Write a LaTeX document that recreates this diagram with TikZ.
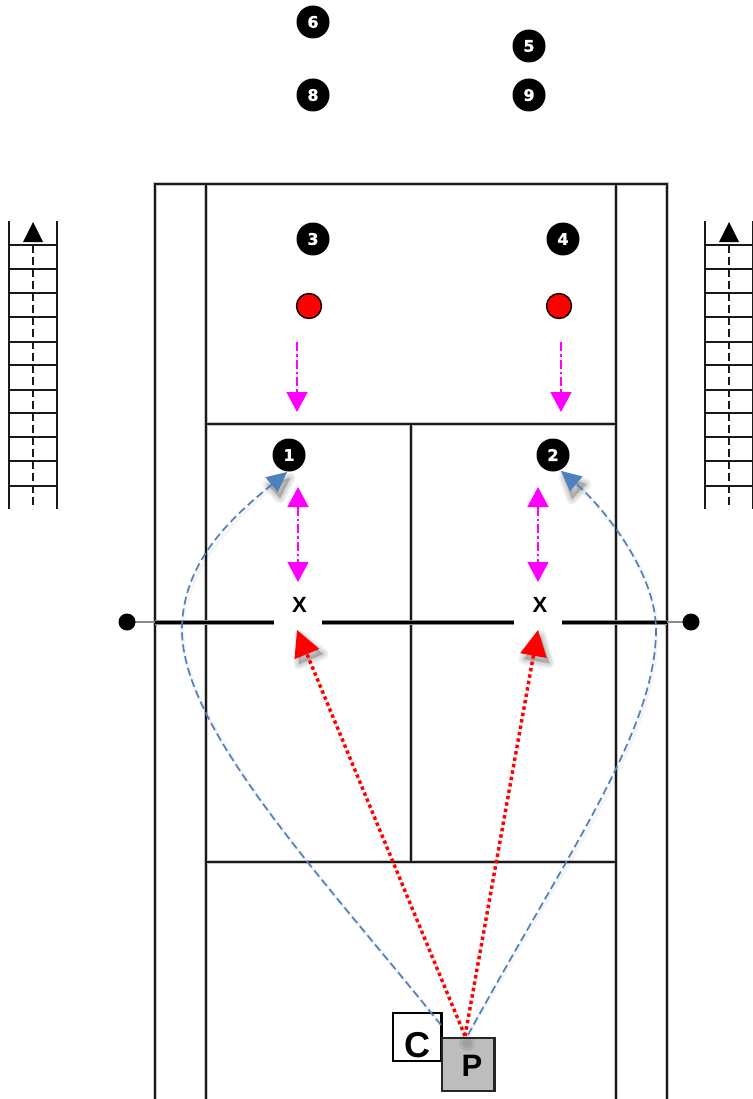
\documentclass[tikz,border=0pt]{standalone}
\usepackage{fontspec}
\setmainfont{Liberation Sans}
\newfontfamily\numfont[FakeBold=1.3]{DejaVu Sans Bold}
\usetikzlibrary{arrows.meta}
\definecolor{blueline}{HTML}{4F81BD}
\definecolor{mag}{HTML}{FF00FF}
\tikzset{
 x=1pt,y=-1pt,
 courthalo/.style={draw=black!22,line width=4.8pt},
 court/.style={draw=black!90,line width=2.9pt},
 rail/.style={draw=black!90,line width=2pt},
 player/.style={circle,fill=black,minimum size=33pt,inner sep=0pt,text=white,font=\numfont\fontsize{16}{16}\selectfont},
 ball/.style={circle,draw=black,fill=red,line width=1.4pt,minimum size=25pt,inner sep=0pt},
 post/.style={circle,fill=black,minimum size=17pt,inner sep=0pt},
 magarrow/.style={draw=mag,line width=1.6pt,dash pattern=on 9pt off 3pt on 2.5pt off 3pt,-{Triangle[length=20pt,width=21pt,fill=mag]}},
 magdouble/.style={draw=mag,line width=1.6pt,dash pattern=on 9pt off 3pt on 2.5pt off 3pt,{Triangle[length=20pt,width=21pt,fill=mag]}-{Triangle[length=20pt,width=21pt,fill=mag]}},
 redarrow/.style={draw=red,line width=3.4pt,dash pattern=on 3.4pt off 3.1pt,-{Triangle[length=26pt,width=26pt,fill=red]}},
 bluearrow/.style={draw=blueline,line width=1.7pt,dash pattern=on 8pt off 4pt,-{Triangle[length=20pt,width=19pt,fill=blueline]}},
 softline/.style={draw=black,line width=4pt,opacity=0.04},
 coach/.style={draw=black,line width=2.2pt,fill=white,minimum size=48.5pt,inner sep=0pt},
 pro/.style={draw=black!85,line width=2.2pt,fill=black!26,minimum size=52.5pt,inner sep=0pt},
 bigletter/.style={font=\bfseries\fontsize{#1}{#1}\selectfont,inner sep=0pt},
 xmask/.style={fill=white,minimum width=48pt,minimum height=40pt,inner sep=0pt},
 laddertip/.style={fill=black,draw=none},
}
\begin{document}
\begin{tikzpicture}
\useasboundingbox (0,0) rectangle (752,1099);
\fill[white] (0,0) rectangle (752,1099);
% court
\foreach \s in {courthalo,court}{
\draw[\s] (155,1099) -- (155,184) -- (667,184) -- (667,1099);
\draw[\s] (206,1099) -- (206,184);
\draw[\s] (616,1099) -- (616,184);
\draw[\s] (206,424) -- (616,424);
\draw[\s] (206,862) -- (616,862);
\draw[\s] (411,424) -- (411,862);
}
% net
\draw[draw=black!45,line width=2.6pt] (127,622) -- (155,622) (667,622) -- (691,622);
\draw[draw=black!45,line width=5pt] (155,622) -- (667,622);
\draw[draw=black,line width=3pt] (155,622) -- (667,622);
\node[post] (pl) at (127,622) {};
\node[post] (pr) at (691,622) {};
% ladders
\foreach \lx in {9,705}{
 \draw[rail] (\lx,221) -- (\lx,509);
 \draw[rail] (\lx+48,221) -- (\lx+48,509);
 \foreach \ly in {245,269,293,317,342,365,390,413,437,461,486}
   \draw[rail] (\lx,\ly) -- (\lx+48,\ly);
 \draw[rail,dash pattern=on 8pt off 4pt] (\lx+24,245) -- (\lx+24,509);
 \fill[laddertip] (\lx+14,242) -- (\lx+24,222) -- (\lx+34,242) -- cycle;
}
% players
\node[player] (p6) at (313,22) {6};
\node[player] (p5) at (529,46) {5};
\node[player] (p8) at (313,95) {8};
\node[player] (p9) at (529,95) {9};
\node[player] (p3) at (313,239) {3};
\node[player] (p4) at (563,239) {4};
\node[player] (p1) at (289,455) {1};
\node[player] (p2) at (553,455) {2};
\node[ball] (b1) at (309,306) {};
\node[ball] (b2) at (559,306) {};
% targets
\node[xmask] (x1) at (298,611) {};
\node[xmask] (x2) at (538,611) {};
\node[bigletter=22] (x1t) at (299.5,604.5) {X};
\node[bigletter=22] (x2t) at (540,604.5) {X};
% magenta connector ends
\coordinate (m1a) at (297,342); \coordinate (m1b) at (297,412);
\coordinate (m2a) at (561,342); \coordinate (m2b) at (561,412);
\coordinate (m3a) at (298,487); \coordinate (m3b) at (298,582);
\coordinate (m4a) at (538,487); \coordinate (m4b) at (538,582);
\draw[magarrow] (m1a) -- (m1b);
\draw[magarrow] (m2a) -- (m2b);
\draw[magdouble] (m3a) -- (m3b);
\draw[magdouble] (m4a) -- (m4b);
% coach
\node[coach] (c) at (417.3,1037) {};
\node[bigletter=36] (ct) at (417,1045.5) {C};
% connector ends
\coordinate (s1) at (441,1025);
\coordinate (s2) at (468,1035);
\coordinate (s3) at (465,1036);
\coordinate (t1) at (287,472);
\coordinate (t2) at (561,471);
\coordinate (w1) at (182,630);
\coordinate (w2) at (656,630);
\coordinate (r1) at (297,630);
\coordinate (r2) at (538,630);
% soft shadows of the lines and arrowheads
\begin{scope}[shift={(3,3)}]
\draw[softline] (s1) .. controls (325,880) and (182,730) .. (w1) .. controls (182,560) and (235,515) .. (t1);
\draw[softline] (s2) .. controls (569,850) and (656,730) .. (w2) .. controls (656,570) and (599,503) .. (t2);
\draw[softline] (s3) -- (r1);
\draw[softline] (s3) -- (r2);
\end{scope}
\foreach \w in {11,8,5,2}{
 \begin{scope}[shift={(3,6)},line join=round,opacity=0.05]
 \filldraw[black,line width=\w pt] (297,630) -- (320,648) -- (296,658) -- cycle;
 \filldraw[black,line width=\w pt] (538,630) -- (546,657) -- (521,653) -- cycle;
 \filldraw[black,line width=\w pt] (287,472) -- (265,479) -- (277,492) -- cycle;
 \filldraw[black,line width=\w pt] (561,471) -- (583,478) -- (569,493) -- cycle;
 \end{scope}
}
\draw[bluearrow] (s1) .. controls (325,880) and (182,730) .. (w1) .. controls (182,560) and (235,515) .. (t1);
\draw[bluearrow] (s2) .. controls (569,850) and (656,730) .. (w2) .. controls (656,570) and (599,503) .. (t2);
% pro
\node[pro] (p) at (468.3,1064.4) {};
\fill[black,opacity=0.08] (467,1043) circle[radius=8pt];
\fill[black,opacity=0.08] (467,1043) circle[radius=5pt];
\node[bigletter=31] (pt) at (472,1066) {P};
\draw[redarrow] (s3) -- (r1);
\draw[redarrow] (s3) -- (r2);
\end{tikzpicture}
\end{document}
